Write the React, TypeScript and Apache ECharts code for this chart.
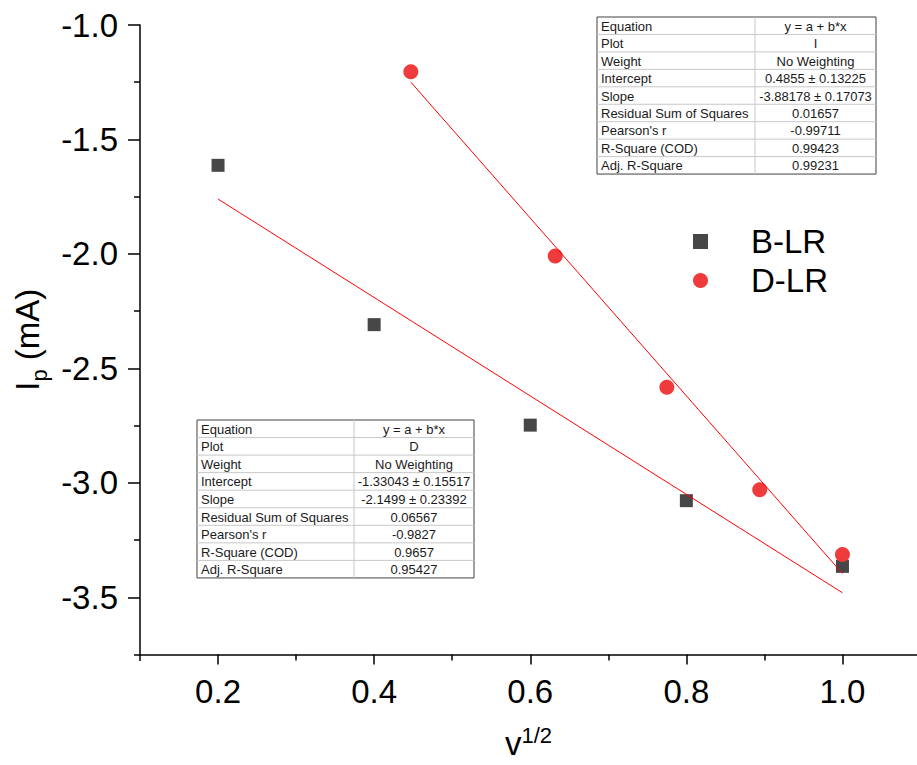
import React, { useEffect, useRef } from "react";
import * as echarts from "echarts";

// ---- data ----
const bX = [0.2, 0.4, 0.6, 0.8, 1.0];
const bY = [-1.613, -2.309, -2.748, -3.078, -3.365];
const dX = [0.447, 0.632, 0.775, 0.894, 1.0];
const dY = [-1.204, -2.009, -2.583, -3.03, -3.313];

const bFitIntercept = -1.33043;
const bFitSlope = -2.1499;
const dFitIntercept = 0.4855;
const dFitSlope = -3.88178;

const seriesNames = ["B-LR", "D-LR"];

const xMajorTicks = [0.2, 0.4, 0.6, 0.8, 1.0];
const xMinorTicks = [0.3, 0.5, 0.7, 0.9];
const yMajorTicks = [-3.5, -3.0, -2.5, -2.0, -1.5, -1.0];
const yMinorTicks = [-3.25, -2.75, -2.25, -1.75, -1.25];

const tableLabels = [
  "Equation",
  "Plot",
  "Weight",
  "Intercept",
  "Slope",
  "Residual Sum of Squares",
  "Pearson's r",
  "R-Square (COD)",
  "Adj. R-Square",
];
const tableTopValues = [
  "y = a + b*x",
  "I",
  "No Weighting",
  "0.4855 ± 0.13225",
  "-3.88178 ± 0.17073",
  "0.01657",
  "-0.99711",
  "0.99423",
  "0.99231",
];
const tableBottomValues = [
  "y = a + b*x",
  "D",
  "No Weighting",
  "-1.33043 ± 0.15517",
  "-2.1499 ± 0.23392",
  "0.06567",
  "-0.9827",
  "0.9657",
  "0.95427",
];

const FONT = "Arial, 'Liberation Sans', sans-serif";

function makeTable(
  left: number,
  top: number,
  width: number,
  colSplit: number,
  rowH: number,
  labels: string[],
  values: string[]
) {
  const children: any[] = [];
  const h = rowH * labels.length;
  children.push({
    type: "rect",
    shape: { x: 0, y: 0, width, height: h },
    style: { fill: "#ffffff", stroke: "#404040", lineWidth: 1 },
  });
  for (let i = 1; i < labels.length; i++) {
    children.push({
      type: "line",
      shape: { x1: 0, y1: i * rowH, x2: width, y2: i * rowH },
      style: { stroke: "#c8c8c8", lineWidth: 1 },
    });
  }
  children.push({
    type: "line",
    shape: { x1: colSplit, y1: 0, x2: colSplit, y2: h },
    style: { stroke: "#c8c8c8", lineWidth: 1 },
  });
  labels.forEach((lab, i) => {
    children.push({
      type: "text",
      x: 4,
      y: i * rowH + rowH / 2 + 0.5,
      style: {
        text: lab,
        font: `13px ${FONT}`,
        fill: "#1a1a1a",
        align: "left",
        verticalAlign: "middle",
      },
    });
    children.push({
      type: "text",
      x: colSplit + (width - colSplit) / 2,
      y: i * rowH + rowH / 2 + 0.5,
      style: {
        text: values[i],
        font: `13px ${FONT}`,
        fill: "#1a1a1a",
        align: "center",
        verticalAlign: "middle",
      },
    });
  });
  return { type: "group", x: left, y: top, z: 100, children };
}

export default function App() {
  const ref = useRef<HTMLDivElement>(null);
  useEffect(() => {
    if (!ref.current) return;
    const chart = echarts.init(ref.current, null, { renderer: "svg" });

    const fitLine = (xs: number[], a: number, b: number) => {
      const x0 = Math.min(...xs);
      const x1 = Math.max(...xs);
      return [
        [x0, a + b * x0],
        [x1, a + b * x1],
      ];
    };

    const axisFont = { fontFamily: FONT, fontSize: 33, color: "#000" };
    const X_MIN = 0.1;
    const X_MAX = 1.0955;

    chart.setOption({
      animation: false,
      backgroundColor: "#ffffff",
      grid: { left: 140, top: 25, right: 0, bottom: 110, containLabel: false },
      legend: {
        orient: "vertical",
        left: 688,
        top: 220,
        itemWidth: 15,
        itemHeight: 15,
        itemGap: 6,
        data: [
          { name: seriesNames[0], icon: "rect" },
          { name: seriesNames[1], icon: "circle" },
        ],
        textStyle: {
          fontFamily: FONT,
          fontSize: 33,
          color: "#000",
          padding: [0, 0, 0, 38],
        },
      },
      xAxis: [
        {
          type: "value",
          min: X_MIN,
          max: X_MAX,
          name: "{v|v}{s|1/2}",
          nameLocation: "middle",
          nameGap: 70,
          nameTextStyle: {
            rich: {
              v: { fontFamily: FONT, fontSize: 33, color: "#000", lineHeight: 38 },
              s: {
                fontFamily: FONT,
                fontSize: 22,
                color: "#000",
                lineHeight: 22,
                verticalAlign: "top",
              },
            },
          },
          axisLine: { show: true, onZero: false, lineStyle: { color: "#000", width: 1.5 } },
          axisTick: {
            show: true,
            length: 10,
            customValues: xMajorTicks,
            lineStyle: { color: "#000", width: 1.5 },
          },
          axisLabel: {
            ...axisFont,
            margin: 20,
            customValues: xMajorTicks,
            formatter: (v: number) => v.toFixed(1),
          },
          splitLine: { show: false },
        },
        {
          type: "value",
          position: "bottom",
          min: X_MIN,
          max: X_MAX,
          axisLine: { show: false },
          axisTick: {
            show: true,
            length: 6,
            customValues: xMinorTicks,
            lineStyle: { color: "#000", width: 1.5 },
          },
          axisLabel: { show: false },
          splitLine: { show: false },
        },
      ],
      yAxis: [
        {
          type: "value",
          min: -3.75,
          max: -1.0,
          interval: 0.25,
          name: "{i|I}{p|p}{i| (mA)}",
          nameLocation: "middle",
          nameGap: 90,
          nameRotate: 90,
          nameTextStyle: {
            rich: {
              i: { fontFamily: FONT, fontSize: 33, color: "#000", lineHeight: 46 },
              p: {
                fontFamily: FONT,
                fontSize: 22,
                color: "#000",
                lineHeight: 22,
                verticalAlign: "bottom",
              },
            },
          },
          axisLine: { show: true, onZero: false, lineStyle: { color: "#000", width: 1.5 } },
          axisTick: {
            show: true,
            length: 12,
            customValues: yMajorTicks,
            lineStyle: { color: "#000", width: 1.5 },
          },
          axisLabel: {
            ...axisFont,
            margin: 22,
            customValues: yMajorTicks,
            formatter: (v: number) => v.toFixed(1),
          },
          splitLine: { show: false },
        },
        {
          type: "value",
          position: "left",
          min: -3.75,
          max: -1.0,
          interval: 0.25,
          axisLine: { show: false },
          axisTick: {
            show: true,
            length: 6,
            customValues: yMinorTicks,
            lineStyle: { color: "#000", width: 1.5 },
          },
          axisLabel: { show: false },
          splitLine: { show: false },
        },
      ],
      graphic: [
        makeTable(597, 17, 279, 158, 17.45, tableLabels, tableTopValues),
        makeTable(197, 420, 277, 157, 17.55, tableLabels, tableBottomValues),
        {
          type: "line",
          shape: { x1: 140, y1: 655, x2: 140, y2: 661 },
          style: { stroke: "#000", lineWidth: 1.5 },
        },
        {
          type: "line",
          shape: { x1: 134, y1: 655, x2: 140, y2: 655 },
          style: { stroke: "#000", lineWidth: 1.5 },
        },
      ],
      series: [
        {
          name: seriesNames[0],
          type: "scatter",
          symbol: "rect",
          symbolSize: 13,
          itemStyle: { color: "#474747", opacity: 1 },
          data: bX.map((x, i) => [x, bY[i]]),
          z: 2,
        },
        {
          name: seriesNames[1],
          type: "scatter",
          symbol: "circle",
          symbolSize: 15,
          itemStyle: { color: "#ef3b3b", opacity: 1 },
          data: dX.map((x, i) => [x, dY[i]]),
          z: 3,
        },
        {
          name: "B-LR fit",
          type: "line",
          showSymbol: false,
          symbol: "none",
          lineStyle: { color: "#ff0000", width: 1 },
          data: fitLine(bX, bFitIntercept, bFitSlope),
          z: 4,
        },
        {
          name: "D-LR fit",
          type: "line",
          showSymbol: false,
          symbol: "none",
          lineStyle: { color: "#ff0000", width: 1 },
          data: fitLine(dX, dFitIntercept, dFitSlope),
          z: 4,
        },
      ],
    });
    return () => chart.dispose();
  }, []);

  return (
    <div
      ref={ref}
      style={{ position: "absolute", left: 0, top: 0, width: 917, height: 765 }}
    />
  );
}
